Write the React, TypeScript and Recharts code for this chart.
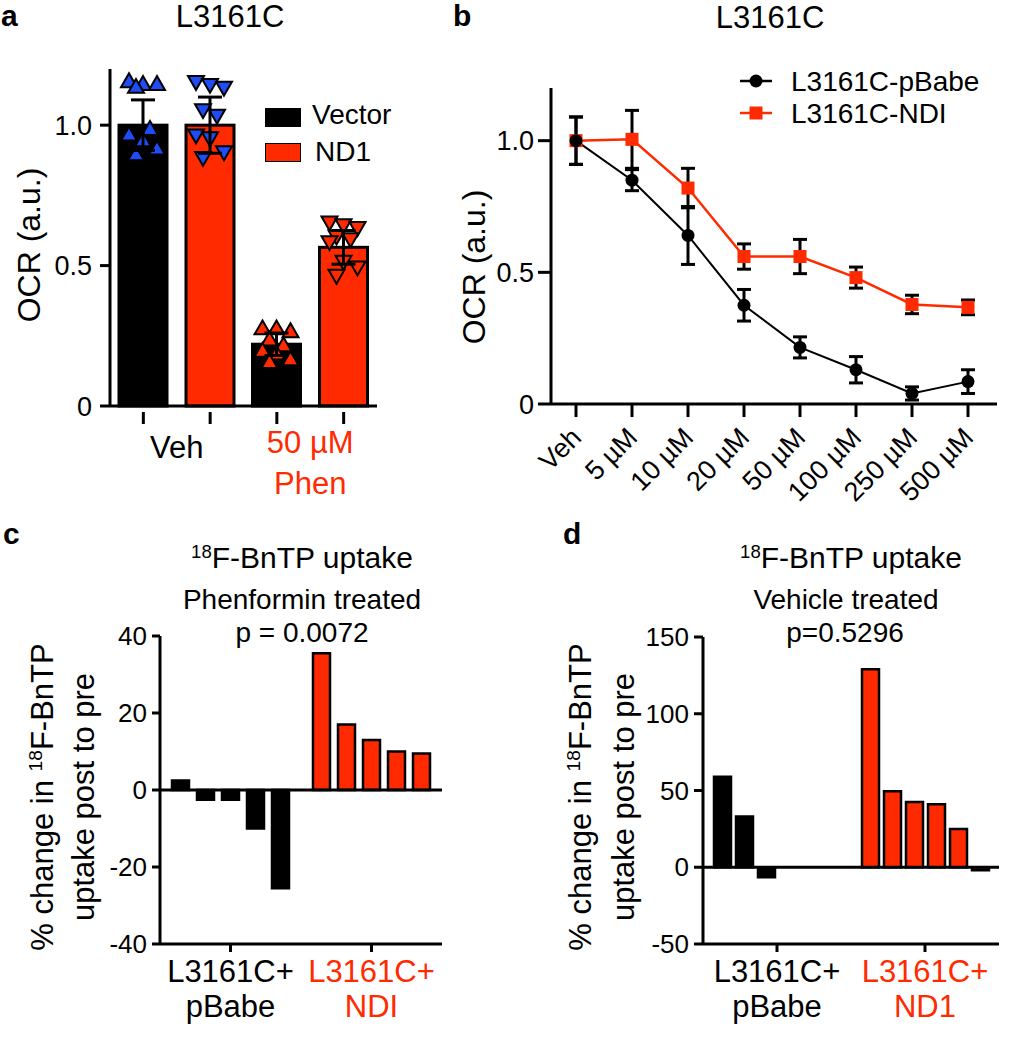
import React from "react";
import {
  Bar,
  BarChart,
  Cell,
  ErrorBar,
  Line,
  LineChart,
  ReferenceLine,
  XAxis,
  YAxis,
} from "recharts";

const FONT = "'Liberation Sans', Arial, sans-serif";
const RED = "#ff2a00";
const BLUE = "#1f4cf5";

// panel a: OCR, vector vs ND1, vehicle vs 50 µM phenformin
const A_GROUPS = ["Veh", "Phen"];
const A_VECTOR = [1.0, 0.22];
const A_ND1 = [1.0, 0.565];
const A_VECTOR_SD = [0.09, 0.04];
const A_ND1_SD = [0.1, 0.06];
const A_VECTOR_PTS = [
  [1.16, 1.15, 1.15, 1.14, 0.99, 0.97, 0.95, 0.92, 0.9],
  [0.28, 0.28, 0.27, 0.24, 0.22, 0.2, 0.19, 0.17, 0.16],
];
const A_ND1_PTS = [
  [1.15, 1.14, 1.13, 1.05, 1.03, 0.96, 0.95, 0.9, 0.88],
  [0.65, 0.64, 0.63, 0.6, 0.59, 0.58, 0.51, 0.49, 0.46],
];

// panel b: OCR dose response
const B_DOSES = ["Veh", "5 µM", "10 µM", "20 µM", "50 µM", "100 µM", "250 µM", "500 µM"];
const B_PBABE = [1.0, 0.85, 0.64, 0.375, 0.215, 0.13, 0.04, 0.085];
const B_PBABE_ERR = [0.09, 0.04, 0.11, 0.06, 0.04, 0.05, 0.025, 0.045];
const B_NDI = [1.0, 1.005, 0.82, 0.56, 0.56, 0.48, 0.378, 0.367];
const B_NDI_ERR = [0.09, 0.11, 0.075, 0.048, 0.065, 0.04, 0.035, 0.028];

// panel c: phenformin treated, % change per animal
const C_GROUPS = ["pBabe", "NDI"];
const C_PBABE = [2.5, -2.5, -2.5, -10, -25.5];
const C_NDI = [35.5, 17, 13, 10, 9.5];

// panel d: vehicle treated
const D_GROUPS = ["pBabe", "ND1"];
const D_PBABE = [59, 33, -6.5, null, null, null];
const D_ND1 = [129, 49.5, 42.5, 41, 25, -2];

const aRows = A_GROUPS.map((g, i) => ({
  group: g,
  vector: A_VECTOR[i],
  nd1: A_ND1[i],
  vectorSd: A_VECTOR_SD[i],
  nd1Sd: A_ND1_SD[i],
  vectorPts: A_VECTOR_PTS[i],
  nd1Pts: A_ND1_PTS[i],
}));

const bRows = B_DOSES.map((d, i) => ({
  dose: d,
  pbabe: B_PBABE[i],
  pbabeErr: B_PBABE_ERR[i],
  ndi: B_NDI[i],
  ndiErr: B_NDI_ERR[i],
}));

function waterfallRows(groups: string[], a: (number | null)[], b: (number | null)[]) {
  return groups.map((g, gi) => {
    const src = gi === 0 ? a : b;
    const row: Record<string, any> = { group: g };
    src.forEach((v, i) => (row["s" + i] = v));
    return row;
  });
}
const cRows = waterfallRows(C_GROUPS, C_PBABE, C_NDI);
const dRows = waterfallRows(D_GROUPS, D_PBABE, D_ND1);

const axisLine = { stroke: "#000", strokeWidth: 3 };
const tickLine = { stroke: "#000", strokeWidth: 3 };

function tri(cx: number, cy: number, s: number, up: boolean) {
  const h = s * 0.87;
  if (up) return `M${cx},${cy - h / 2} L${cx + s / 2},${cy + h / 2} L${cx - s / 2},${cy + h / 2} Z`;
  return `M${cx},${cy + h / 2} L${cx + s / 2},${cy - h / 2} L${cx - s / 2},${cy - h / 2} Z`;
}

// bar plus its individual points; y of a point comes from the bar's own scale
function BarWithPoints(props: any) {
  const { x, y, width, height, fill, payload, valueKey, ptsKey, up, color } = props;
  const v = payload[valueKey];
  const base = y + height;
  const perUnit = height / v;
  const pts: number[] = payload[ptsKey];
  return (
    <g>
      <rect x={x} y={y} width={width} height={height} fill={fill} stroke="#000" strokeWidth={3} />
      {pts.map((p, i) => {
        const dx = (((i * 7) % 5) - 2) * 7;
        return (
          <path
            key={i}
            d={tri(x + width / 2 + dx, base - p * perUnit, 16, up)}
            fill={color}
            stroke="#000"
            strokeWidth={2}
          />
        );
      })}
    </g>
  );
}

function ATick(props: any) {
  const { x, y, payload } = props;
  const half = 33.4;
  const marks = (
    <>
      <line x1={x - half} x2={x - half} y1={y - 2} y2={y + 10} stroke="#000" strokeWidth={3} />
      <line x1={x + half} x2={x + half} y1={y - 2} y2={y + 10} stroke="#000" strokeWidth={3} />
    </>
  );
  if (payload.value === "Veh") {
    return (
      <g>
        {marks}
        <text x={x} y={y + 44} textAnchor="middle" fontSize={31} fill="#000" fontFamily={FONT}>
          Veh
        </text>
      </g>
    );
  }
  return (
    <g>
      {marks}
      <text x={x} y={y + 39} textAnchor="middle" fontSize={31} fill={RED} fontFamily={FONT}>
        50 µM
      </text>
      <text x={x} y={y + 80} textAnchor="middle" fontSize={31} fill={RED} fontFamily={FONT}>
        Phen
      </text>
    </g>
  );
}

function BTick(props: any) {
  const { x, y, payload } = props;
  const ax = x + 7;
  const ay = y + 20;
  return (
    <text
      x={ax}
      y={ay}
      textAnchor="end"
      fontSize={27}
      fill="#000"
      fontFamily={FONT}
      transform={`rotate(-45, ${ax}, ${ay})`}
    >
      {payload.value}
    </text>
  );
}

function GroupTick(props: any) {
  const { x, y, payload, index } = props;
  const color = index === 0 ? "#000" : RED;
  return (
    <g>
      <text x={x} y={y + 28} textAnchor="middle" fontSize={31} fill={color} fontFamily={FONT}>
        L3161C+
      </text>
      <text x={x} y={y + 63} textAnchor="middle" fontSize={31} fill={color} fontFamily={FONT}>
        {payload.value}
      </text>
    </g>
  );
}

function Square(props: any) {
  const { cx, cy } = props;
  if (cx == null || cy == null) return null;
  return <rect x={cx - 6.5} y={cy - 6.5} width={13} height={13} fill={RED} />;
}

function Dot(props: any) {
  const { cx, cy } = props;
  if (cx == null || cy == null) return null;
  return <circle cx={cx} cy={cy} r={6.5} fill="#000" />;
}

function Txt(props: {
  x: number;
  y: number;
  size: number;
  color?: string;
  bold?: boolean;
  rotate?: boolean;
  left?: boolean;
  children: React.ReactNode;
}) {
  const { x, y, size, color = "#000", bold, rotate, left, children } = props;
  const tf = left
    ? "translate(0,-50%)"
    : `translate(-50%,-50%)${rotate ? " rotate(-90deg)" : ""}`;
  return (
    <div
      style={{
        position: "absolute",
        left: x,
        top: y,
        transform: tf,
        fontSize: size,
        lineHeight: 1.1,
        color,
        fontWeight: bold ? "bold" : "normal",
        whiteSpace: "nowrap",
        fontFamily: FONT,
      }}
    >
      {children}
    </div>
  );
}

const Sup = ({ children }: { children: React.ReactNode }) => (
  <span style={{ fontSize: "0.62em", position: "relative", top: "-0.55em" }}>{children}</span>
);

const fmtOcr = (v: number) => (v === 0 ? "0" : v.toFixed(1));

export default function App() {
  return (
    <div
      style={{
        position: "absolute",
        left: 0,
        top: 0,
        width: 1017,
        height: 1050,
        background: "#fff",
        overflow: "hidden",
        fontFamily: FONT,
      }}
    >
      {/* panel a */}
      <div style={{ position: "absolute", left: 0, top: 0 }}>
        <BarChart
          width={420}
          height={500}
          data={aRows}
          margin={{ top: 69, right: 43, left: 0, bottom: 0 }}
          barSize={48}
          barGap={19}
        >
          <XAxis
            dataKey="group"
            height={94}
            axisLine={axisLine}
            tickLine={false}
            tick={<ATick />}
            interval={0}
          />
          <YAxis
            width={110}
            domain={[0, 1.2]}
            ticks={[0, 0.5, 1]}
            tickFormatter={fmtOcr}
            axisLine={axisLine}
            tickLine={tickLine}
            tickSize={10}
            tickMargin={8}
            tick={{ fontSize: 27, fill: "#000", fontFamily: FONT }}
          />
          <Bar
            dataKey="vector"
            fill="#000"
            isAnimationActive={false}
            shape={(p: any) => (
              <BarWithPoints {...p} valueKey="vector" ptsKey="vectorPts" up color={p.index === 0 ? BLUE : RED} />
            )}
          >
            <ErrorBar dataKey="vectorSd" width={12} stroke="#000" strokeWidth={3} direction="y" />
          </Bar>
          <Bar
            dataKey="nd1"
            fill={RED}
            isAnimationActive={false}
            shape={(p: any) => (
              <BarWithPoints {...p} valueKey="nd1" ptsKey="nd1Pts" up={false} color={p.index === 0 ? BLUE : RED} />
            )}
          >
            <ErrorBar dataKey="nd1Sd" width={12} stroke="#000" strokeWidth={3} direction="y" />
          </Bar>
        </BarChart>
      </div>
      <Txt x={1} y={15} size={30} bold left>
        a
      </Txt>
      <Txt x={230} y={17} size={31}>
        L3161C
      </Txt>
      <Txt x={30} y={245} size={32} rotate>
        OCR (a.u.)
      </Txt>
      <div style={{ position: "absolute", left: 265, top: 108, width: 34, height: 17, background: "#000", border: "1.5px solid #000" }} />
      <div style={{ position: "absolute", left: 265, top: 143, width: 34, height: 17, background: RED, border: "1.5px solid #000" }} />
      <Txt x={312} y={115} size={28} left>
        Vector
      </Txt>
      <Txt x={315} y={152} size={28} left>
        ND1
      </Txt>

      {/* panel b */}
      <div style={{ position: "absolute", left: 420, top: 0 }}>
        <LineChart
          width={597}
          height={530}
          data={bRows}
          margin={{ top: 88, right: 20, left: 0, bottom: 30 }}
        >
          <XAxis
            dataKey="dose"
            height={96}
            padding={{ left: 25, right: 29 }}
            axisLine={axisLine}
            tickLine={tickLine}
            tickSize={13}
            tick={<BTick />}
            interval={0}
          />
          <YAxis
            width={131}
            domain={[0, 1.2]}
            ticks={[0, 0.5, 1]}
            tickFormatter={fmtOcr}
            axisLine={axisLine}
            tickLine={tickLine}
            tickSize={13}
            tickMargin={4}
            tick={{ fontSize: 27, fill: "#000", fontFamily: FONT }}
          />
          <Line dataKey="ndi" stroke={RED} strokeWidth={2.5} dot={<Square />} isAnimationActive={false}>
            <ErrorBar dataKey="ndiErr" width={7} stroke="#000" strokeWidth={3} direction="y" />
          </Line>
          <Line dataKey="pbabe" stroke="#000" strokeWidth={2} dot={<Dot />} isAnimationActive={false}>
            <ErrorBar dataKey="pbabeErr" width={7} stroke="#000" strokeWidth={3} direction="y" />
          </Line>
        </LineChart>
      </div>
      <Txt x={453} y={15} size={30} bold left>
        b
      </Txt>
      <Txt x={770} y={18} size={31}>
        L3161C
      </Txt>
      <Txt x={475} y={267} size={32} rotate>
        OCR (a.u.)
      </Txt>
      <svg style={{ position: "absolute", left: 735, top: 65 }} width={44} height={64}>
        <line x1={5} x2={37} y1={16} y2={16} stroke="#000" strokeWidth={2.5} />
        <circle cx={21} cy={16} r={6.5} fill="#000" />
        <line x1={5} x2={37} y1={48} y2={48} stroke={RED} strokeWidth={2.5} />
        <rect x={14.5} y={41.5} width={13} height={13} fill={RED} />
      </svg>
      <Txt x={791} y={82} size={28} left>
        L3161C-pBabe
      </Txt>
      <Txt x={791} y={114} size={28} left>
        L3161C-NDI
      </Txt>

      {/* panel c */}
      <div style={{ position: "absolute", left: 0, top: 500 }}>
        <BarChart
          width={480}
          height={550}
          data={cRows}
          margin={{ top: 136, right: 38, left: 0, bottom: 0 }}
          barSize={17}
          barGap={8}
        >
          <XAxis
            dataKey="group"
            height={106}
            axisLine={axisLine}
            tickLine={tickLine}
            tickSize={8}
            tick={<GroupTick />}
            interval={0}
          />
          <YAxis
            width={160}
            domain={[-40, 40]}
            ticks={[-40, -20, 0, 20, 40]}
            axisLine={axisLine}
            tickLine={tickLine}
            tickSize={8}
            tickMargin={5}
            tick={{ fontSize: 26, fill: "#000", fontFamily: FONT }}
          />
          {C_PBABE.map((_, i) => (
            <Bar key={i} dataKey={"s" + i} stroke="#000" strokeWidth={2.5} isAnimationActive={false}>
              {cRows.map((_, gi) => (
                <Cell key={gi} fill={gi === 0 ? "#000" : RED} />
              ))}
            </Bar>
          ))}
          <ReferenceLine y={0} stroke="#000" strokeWidth={3} />
        </BarChart>
      </div>
      <Txt x={3} y={533} size={30} bold left>
        c
      </Txt>
      <Txt x={302} y={557} size={30}>
        <Sup>18</Sup>F-BnTP uptake
      </Txt>
      <Txt x={302} y={600} size={28}>
        Phenformin treated
      </Txt>
      <Txt x={302} y={633} size={28}>
        p = 0.0072
      </Txt>
      <Txt x={43} y={797} size={31} rotate>
        % change in <Sup>18</Sup>F-BnTP
      </Txt>
      <Txt x={84} y={797} size={31} rotate>
        uptake post to pre
      </Txt>

      {/* panel d */}
      <div style={{ position: "absolute", left: 480, top: 500 }}>
        <BarChart
          width={537}
          height={550}
          data={dRows}
          margin={{ top: 137, right: 18, left: 0, bottom: 0 }}
          barSize={17}
          barGap={5}
        >
          <XAxis
            dataKey="group"
            height={106}
            axisLine={axisLine}
            tickLine={tickLine}
            tickSize={8}
            tick={<GroupTick />}
            interval={0}
          />
          <YAxis
            width={223}
            domain={[-50, 150]}
            ticks={[-50, 0, 50, 100, 150]}
            axisLine={axisLine}
            tickLine={tickLine}
            tickSize={9}
            tickMargin={5}
            tick={{ fontSize: 26, fill: "#000", fontFamily: FONT }}
          />
          {D_ND1.map((_, i) => (
            <Bar key={i} dataKey={"s" + i} stroke="#000" strokeWidth={2.5} isAnimationActive={false}>
              {dRows.map((_, gi) => (
                <Cell key={gi} fill={gi === 0 ? "#000" : RED} />
              ))}
            </Bar>
          ))}
          <ReferenceLine y={0} stroke="#000" strokeWidth={3} />
        </BarChart>
      </div>
      <Txt x={563} y={533} size={30} bold left>
        d
      </Txt>
      <Txt x={851} y={557} size={30}>
        <Sup>18</Sup>F-BnTP uptake
      </Txt>
      <Txt x={846} y={600} size={28}>
        Vehicle treated
      </Txt>
      <Txt x={845} y={633} size={28}>
        p=0.5296
      </Txt>
      <Txt x={581} y={797} size={31} rotate>
        % change in <Sup>18</Sup>F-BnTP
      </Txt>
      <Txt x={624} y={797} size={31} rotate>
        uptake post to pre
      </Txt>
    </div>
  );
}
